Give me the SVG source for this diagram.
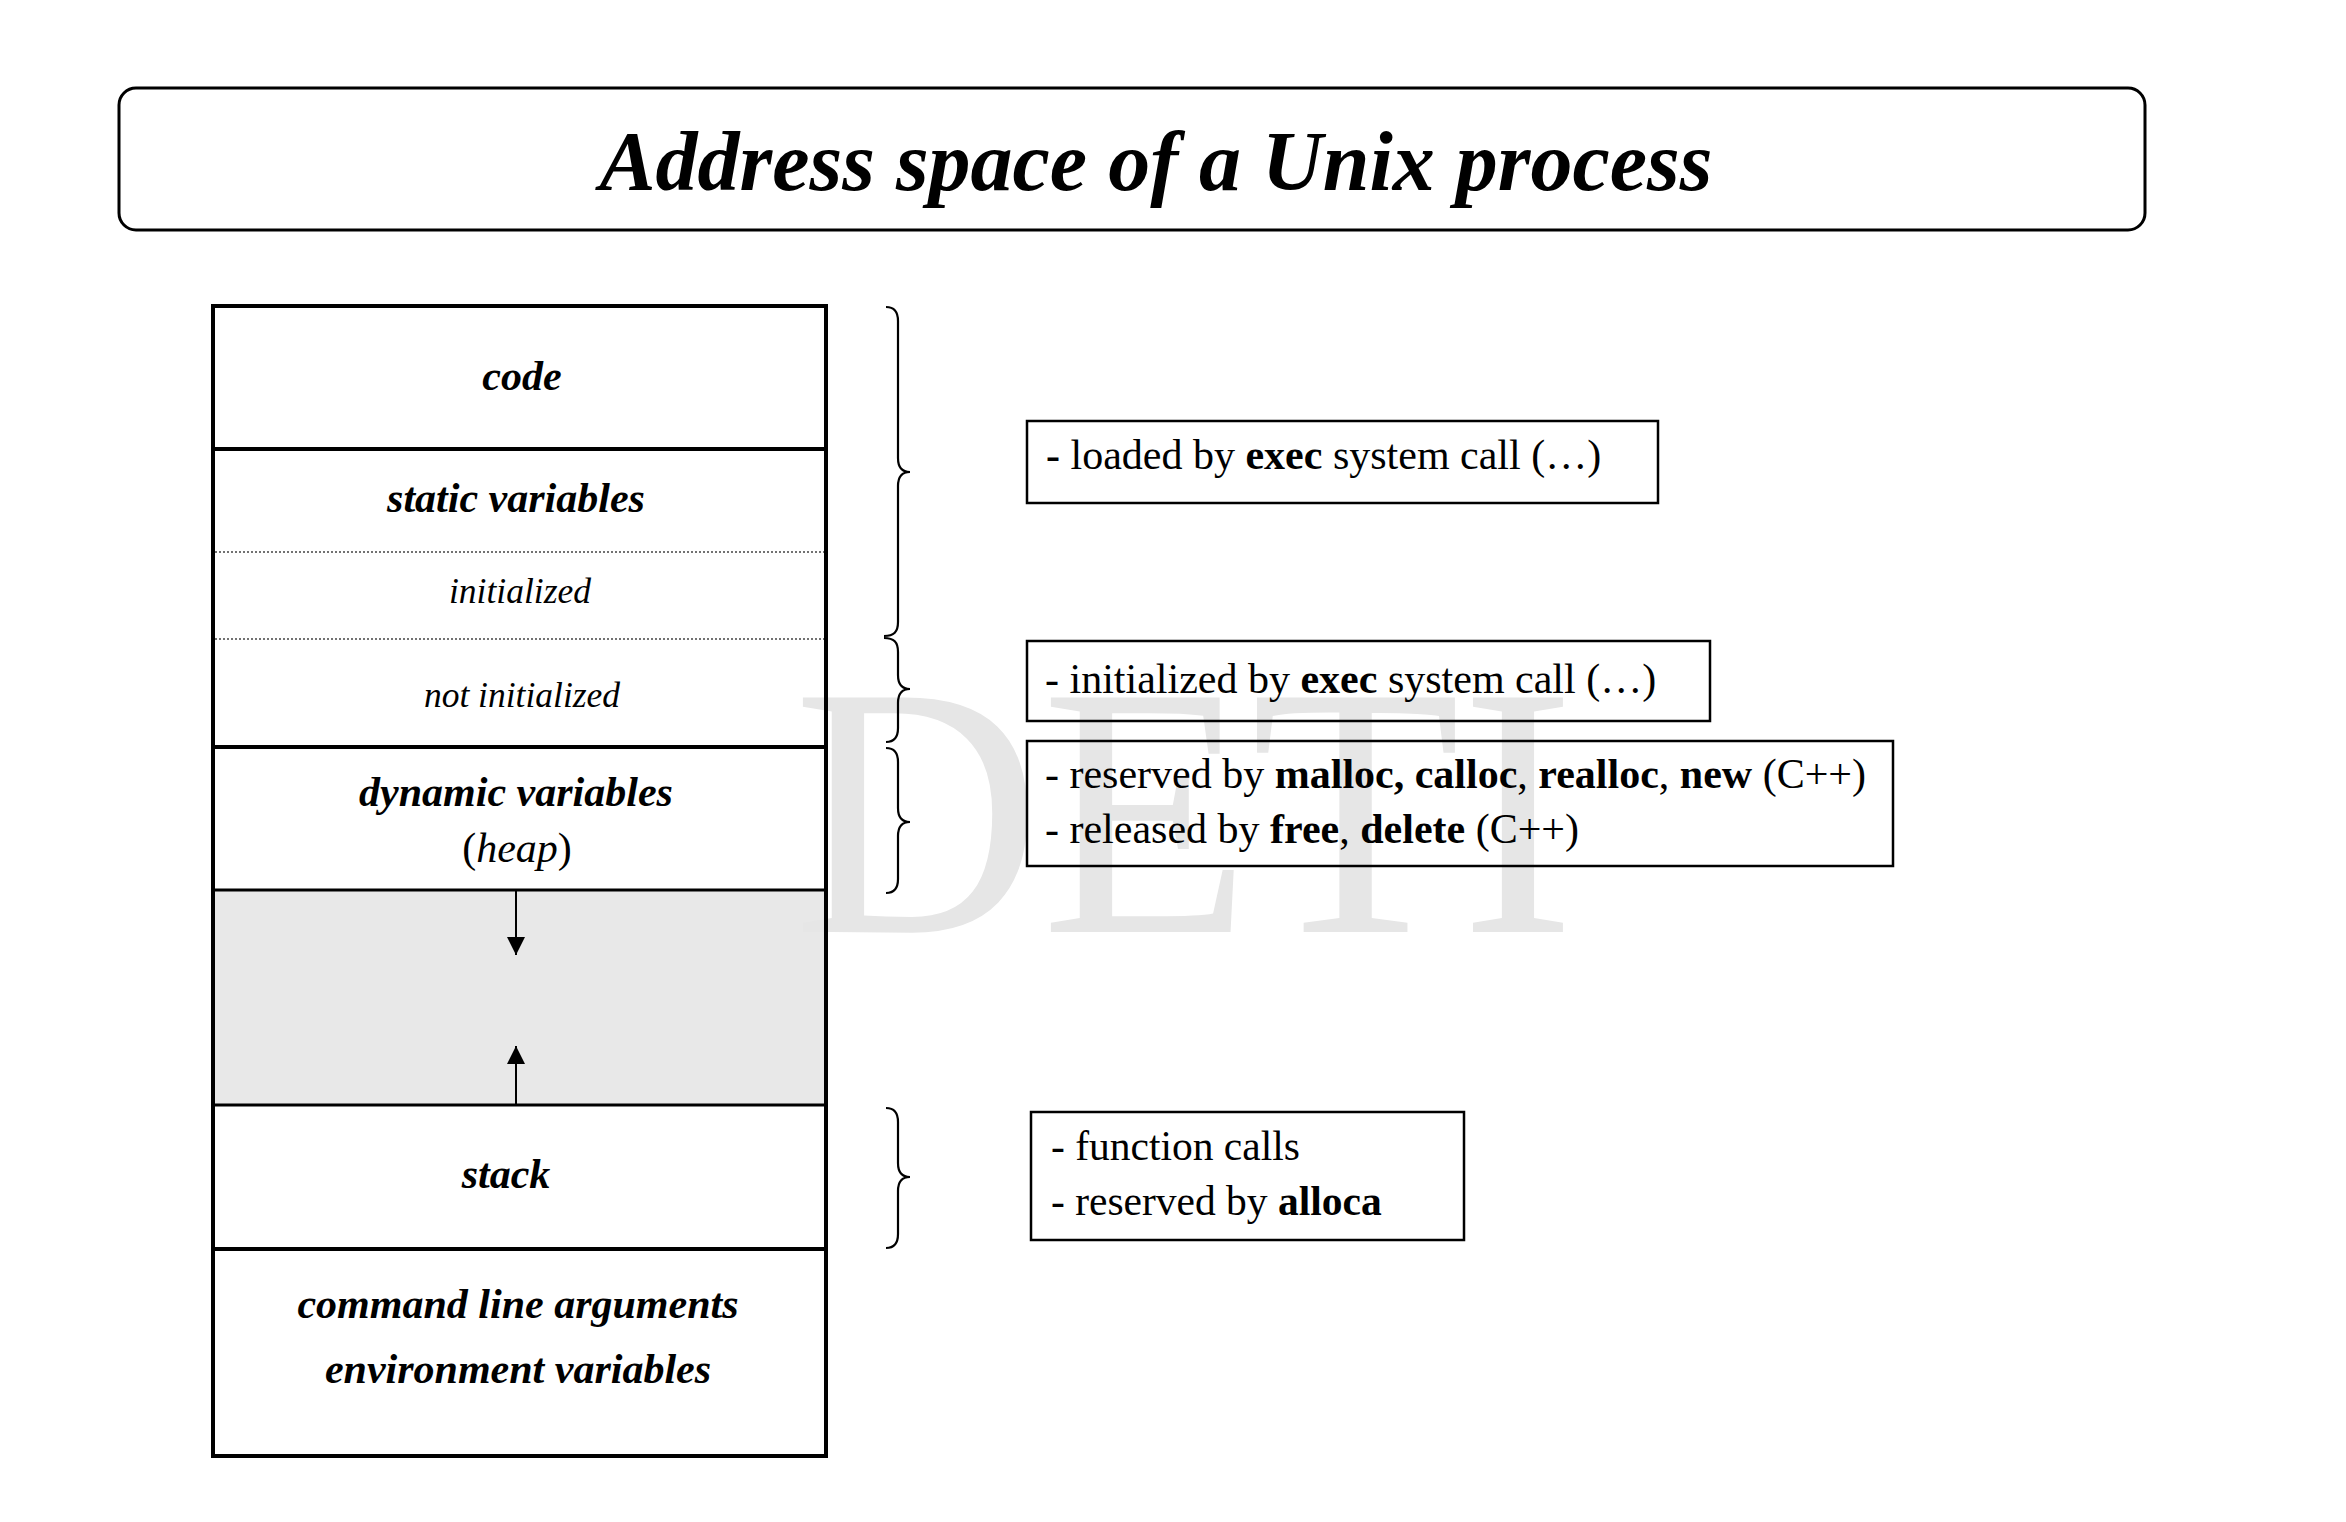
<svg xmlns="http://www.w3.org/2000/svg" width="2346" height="1522" viewBox="0 0 2346 1522">
<style>
text{font-family:"Liberation Serif","Times New Roman",serif;fill:#000}
.lbl{font-size:42px;font-weight:bold;font-style:italic;text-anchor:middle}
.sub{font-size:35.5px;font-style:italic;text-anchor:middle}
.note{font-size:42px}
.note2{font-size:41.5px}
.b{font-weight:bold}
.box{fill:none;stroke:#000;stroke-width:2.5}
.brace{fill:none;stroke:#000;stroke-width:2.2}
.div{stroke:#000;stroke-width:4}
.thin{stroke:#000;stroke-width:3}
.dot{stroke:#444;stroke-width:1.6;stroke-dasharray:2 2}
</style>
<defs>
<marker id="ah" viewBox="0 0 10 10" refX="10" refY="5" markerWidth="18" markerHeight="18" markerUnits="userSpaceOnUse" orient="auto">
<path d="M0,0 L10,5 L0,10 z" fill="#000"/>
</marker>
</defs>
<rect width="2346" height="1522" fill="#fff"/>
<g id="title">
<rect x="119" y="88" width="2026" height="142" rx="17" ry="17" fill="none" stroke="#000" stroke-width="3"/>
<text x="1156" y="190" font-size="84" font-weight="bold" font-style="italic" text-anchor="middle">Address space of a Unix process</text>
</g>
<g id="memory">
<rect x="213" y="890" width="612" height="215" fill="#e8e8e8"/>
<text x="793" y="932" font-size="358" textLength="782" lengthAdjust="spacingAndGlyphs" style="fill:#e6e6e6">DETI</text>
<rect x="213" y="306" width="613" height="1150" fill="none" stroke="#000" stroke-width="4"/>
<line class="div" x1="213" y1="449" x2="826" y2="449"/>
<line class="dot" x1="215" y1="552" x2="824" y2="552"/>
<line class="dot" x1="215" y1="639" x2="824" y2="639"/>
<line class="div" x1="213" y1="747" x2="826" y2="747"/>
<line class="thin" x1="213" y1="890" x2="826" y2="890"/>
<line class="thin" x1="213" y1="1105" x2="826" y2="1105"/>
<line class="div" x1="213" y1="1249" x2="826" y2="1249"/>
</g>
<g id="code"><text class="lbl" x="522" y="390">code</text></g>
<g id="static"><text class="lbl" x="516" y="512">static variables</text>
<text class="sub" x="520" y="603">initialized</text>
<text class="sub" x="522" y="707">not initialized</text></g>
<g id="heap"><text class="lbl" x="516" y="806">dynamic variables</text>
<text class="note" x="517" y="862" text-anchor="middle">(<tspan font-style="italic">heap</tspan>)</text></g>
<g id="stack"><text class="lbl" x="506" y="1188">stack</text></g>
<g id="args"><text class="lbl" x="518" y="1318">command line arguments</text>
<text class="lbl" x="518" y="1383">environment variables</text></g>
<g id="connectors">
<line x1="516" y1="890" x2="516" y2="955" stroke="#000" stroke-width="2" marker-end="url(#ah)"/>
<line x1="516" y1="1105" x2="516" y2="1046" stroke="#000" stroke-width="2" marker-end="url(#ah)"/>
<path class="brace" d="M886,307 C894,307 898,311 898,321 L898,458 C898,467 902,472 910,472 C902,472 898,477 898,486 L898,622 C898,632 894,636 884,636"/>
<path class="brace" d="M884,638 C894,638 898,642 898,652 L898,675 C898,684 902,689 910,689 C902,689 898,694 898,703 L898,728 C898,738 894,742 886,742"/>
<path class="brace" d="M886,748 C894,748 898,752 898,762 L898,808 C898,817 902,822 910,822 C902,822 898,827 898,836 L898,879 C898,889 894,893 886,893"/>
<path class="brace" d="M886,1108 C894,1108 898,1112 898,1122 L898,1163 C898,1172 902,1177 910,1177 C902,1177 898,1182 898,1191 L898,1234 C898,1244 894,1248 886,1248"/>
</g>
<g id="note-loaded">
<rect class="box" x="1027" y="421" width="631" height="82"/>
<text class="note" x="1046" y="469"><tspan class="b">-</tspan> loaded by <tspan class="b">exec</tspan> system call (…)</text>
</g>
<g id="note-init">
<rect class="box" x="1027" y="641" width="683" height="80"/>
<text class="note" x="1045" y="693">- initialized by <tspan class="b">exec</tspan> system call (…)</text>
</g>
<g id="note-heap">
<rect class="box" x="1027" y="741" width="866" height="125"/>
<text class="note" x="1045" y="788">- reserved by <tspan class="b">malloc, calloc</tspan>, <tspan class="b">realloc</tspan>, <tspan class="b">new</tspan> (C++)</text>
<text class="note" x="1045" y="843">- released by <tspan class="b">free</tspan>, <tspan class="b">delete</tspan> (C++)</text>
</g>
<g id="note-stack">
<rect class="box" x="1031" y="1112" width="433" height="128"/>
<text class="note2" x="1051" y="1160">- function calls</text>
<text class="note2" x="1051" y="1215">- reserved by <tspan class="b">alloca</tspan></text>
</g>
</svg>
